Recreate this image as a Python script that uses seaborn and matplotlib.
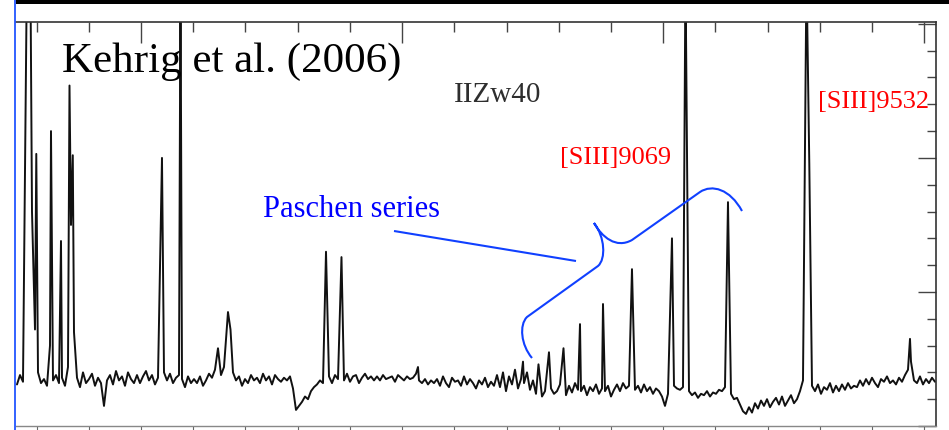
import matplotlib
matplotlib.use("Agg")
import matplotlib.pyplot as plt
from matplotlib.path import Path
from matplotlib.patches import PathPatch, Rectangle
from matplotlib.ticker import MultipleLocator
import numpy as np
import pandas as pd
import seaborn as sns

# spectrum sampled on a regular grid (Angstrom, arbitrary flux units)
SPEC_START = 6525.1
SPEC_STEP = 11.49
SPEC_FLUX = [
    1.55, 1.9, 1.65, 5.0, 16.5, 8.0, 3.6, 2.0, 1.6, 1.75, 1.5, 3.0, 1.7, 1.9, 1.6, 1.8, 1.5, 2.2, 7.5, 3.5,
    1.8, 1.45, 2.0, 1.6, 1.75, 1.95, 1.5, 1.8, 1.6, 0.75, 1.7, 1.9, 1.55, 2.05, 1.7, 1.85, 1.5, 2.0, 1.75, 1.6,
    1.9, 1.6, 1.85, 2.05, 1.7, 1.9, 1.55, 1.8, 1.85, 2.0, 1.7, 1.95, 1.6, 1.8, 1.9, 1.75, 1.45, 1.85, 1.6, 1.75,
    1.6, 1.85, 1.5, 1.7, 1.95, 1.8, 2.1, 2.0, 1.9, 2.2, 2.4, 3.0, 2.0, 1.7, 1.85, 1.5, 1.75, 1.6, 1.9, 1.7,
    1.8, 1.6, 1.95, 1.7, 1.85, 1.55, 1.9, 1.75, 1.65, 1.8, 1.7, 1.85, 1.4, 0.6, 0.75, 0.9, 1.1, 1.0, 1.3, 1.45,
    1.55, 1.7, 1.6, 1.7, 1.85, 1.6, 1.9, 1.75, 1.8, 1.7, 1.95, 1.65, 1.85, 1.9, 1.6, 1.8, 1.95, 1.75, 1.85, 1.7,
    1.85, 1.7, 1.9, 1.75, 1.8, 1.85, 1.65, 1.9, 1.8, 1.7, 1.85, 1.75, 1.8, 1.95, 1.7, 1.6, 1.75, 1.55, 1.7, 1.6,
    1.75, 1.5, 1.85, 1.6, 1.45, 1.8, 1.65, 1.7, 1.5, 1.85, 1.55, 1.75, 1.6, 1.4, 1.7, 1.55, 1.8, 1.45, 1.65, 1.5,
    1.9, 1.45, 2.0, 1.3, 1.85, 1.55, 2.1, 1.4, 1.75, 1.6, 2.0, 1.35, 1.7, 1.2, 1.5, 1.1, 1.3, 1.05, 1.4, 1.2,
    1.3, 1.55, 1.4, 1.15, 1.5, 1.25, 1.6, 1.35, 1.3, 1.5, 1.15, 1.45, 1.3, 1.55, 1.2, 1.4, 1.3, 1.5, 1.1, 1.35,
    1.55, 1.3, 1.6, 1.4, 1.5, 1.6, 1.35, 1.5, 1.25, 1.55, 1.3, 1.45, 1.2, 1.4, 1.3, 1.1, 0.75, 1.2, 1.35, 1.5,
    1.4, 1.35, 1.45, 1.5, 1.3, 1.15, 1.25, 1.05, 1.2, 1.15, 1.3, 1.1, 1.25, 1.2, 1.35, 1.3, 1.45, 1.5, 1.2, 1.0,
    1.05, 0.8, 0.55, 0.45, 0.7, 0.5, 0.85, 0.65, 0.95, 0.75, 1.0, 0.7, 0.9, 1.05, 0.8, 1.1, 0.75, 0.95, 1.15, 0.85,
    1.0, 1.3, 1.7, 1.8, 1.8, 1.5, 1.3, 1.55, 1.2, 1.45, 1.35, 1.6, 1.25, 1.5, 1.3, 1.55, 1.35, 1.6, 1.4, 1.5,
    1.45, 1.7, 1.5, 1.75, 1.55, 1.8, 1.6, 1.45, 1.75, 1.65, 1.85, 1.6, 1.7, 1.55, 1.8, 1.65, 1.9, 2.1, 2.4, 1.7,
    1.6, 1.85, 1.55, 1.75, 1.6, 1.8, 1.65,
]

# unresolved emission-line peaks
LINE_WAVE = [
    6562.6, 6576.8, 6599.0, 6655.3, 6693.6, 6726.2, 6738.8, 7080.4, 7151.3, 7294.9,
    7333.2, 7342.8, 7708.6, 7767.9, 8060.9, 8463.1, 8522.4, 8562.6, 8618.2, 8681.4,
    8769.5, 8880.5, 9033.7, 9085.4, 9248.2, 9548.9, 9559.6, 9945.3,
]
LINE_PEAK = [
    16.5, 16.5, 10.15, 11.0, 6.9, 12.7, 10.1, 10.0, 17.0, 2.9,
    4.25, 3.6, 6.5, 6.3, 2.2, 2.4, 2.3, 2.75, 2.9, 3.8,
    4.55, 5.85, 7.0, 17.0, 8.35, 17.0, 9.8, 3.25,
]

X_RANGE = (6521.3, 10044.9)
Y_RANGE = (0, 15.07)

W, H = 949, 431
SERIF = "Liberation Serif"


def build_spectrum() -> pd.DataFrame:
    wave = SPEC_START + SPEC_STEP * np.arange(len(SPEC_FLUX))
    flux = np.array(SPEC_FLUX)
    lines = np.array(LINE_WAVE)
    keep = np.array([np.min(np.abs(lines - w)) >= 3.8 for w in wave])
    df = pd.concat([
        pd.DataFrame({"wave": wave[keep], "flux": flux[keep]}),
        pd.DataFrame({"wave": LINE_WAVE, "flux": LINE_PEAK}),
    ])
    return df.sort_values("wave").reset_index(drop=True)


sns.set_theme(style="white")
plt.rcParams["font.family"] = [SERIF, "DejaVu Serif"]

fig = plt.figure(figsize=(W / 100, H / 100), dpi=100)
fig.patch.set_facecolor("white")

ax = fig.add_axes([16 / W, 1 - 427 / H, (936 - 16) / W, (427 - 23) / H])
spec = build_spectrum()
sns.lineplot(data=spec, x="wave", y="flux", ax=ax, sort=False, estimator=None,
             color="#111111", linewidth=1.4)
ax.set_xlim(*X_RANGE)
ax.set_ylim(*Y_RANGE)
ax.set_xlabel("")
ax.set_ylabel("")

ax.spines["left"].set_visible(False)
ax.spines["top"].set_color("#333333")
ax.spines["top"].set_linewidth(1.2)
ax.spines["right"].set_color("#333333")
ax.spines["right"].set_linewidth(1.2)
ax.spines["bottom"].set_color("#888888")
ax.spines["bottom"].set_linewidth(1.0)

# bottom ticks point outward, right ticks inward
ax.xaxis.set_major_locator(MultipleLocator(1000))
ax.xaxis.set_minor_locator(MultipleLocator(200))
ax.tick_params(axis="x", which="both", bottom=True, top=False, direction="out",
               length=5, width=0.8, color="#666666", labelbottom=False)
ax.yaxis.tick_right()
ax.yaxis.set_major_locator(MultipleLocator(5))
ax.yaxis.set_minor_locator(MultipleLocator(1))
ax.tick_params(axis="y", which="major", right=True, left=False, direction="in",
               length=13, width=1.0, color="#444444", labelright=False, labelleft=False)
ax.tick_params(axis="y", which="minor", right=True, left=False, direction="in",
               length=6.5, width=1.0, color="#444444")

top = ax.twiny()
top.set_xlim(*X_RANGE)
top.xaxis.set_major_locator(MultipleLocator(1000))
top.xaxis.set_minor_locator(MultipleLocator(200))
top.tick_params(axis="x", which="major", top=True, direction="in", length=15,
                width=1.0, color="#444444", labeltop=False)
top.tick_params(axis="x", which="minor", top=True, direction="in", length=7.5,
                width=1.0, color="#444444")
for s in top.spines.values():
    s.set_visible(False)

# overlay in image pixel coordinates for the page decorations
ov = fig.add_axes([0, 0, 1, 1], zorder=5)
ov.set_xlim(0, W)
ov.set_ylim(H, 0)
ov.axis("off")
ov.patch.set_alpha(0)

ov.add_patch(Rectangle((16, 0), W - 16, 5, color="black", lw=0))
ov.plot([15.5, 15.5], [0, H], color="#2255ff", lw=1.3)

ov.text(62, 72, "Kehrig et al. (2006)", fontsize=31, color="black", family=SERIF)
ov.text(454, 102, "IIZw40", fontsize=21, color="#2e2e2e", family=SERIF)
ov.text(560, 164, "[SIII]9069", fontsize=19, color="red", family=SERIF)
ov.text(818, 108, "[SIII]9532", fontsize=19, color="red", family=SERIF)
ov.text(263, 217, "Paschen series", fontsize=22, color="blue", family=SERIF)

blue = "#1040ff"
ov.plot([394, 576], [232, 262], color=blue, lw=1.5, solid_capstyle="butt")

M, L, C = Path.MOVETO, Path.LINETO, Path.CURVE4
brace_pts = [
    (532, 359), (521, 346), (519, 326), (527, 318),
    (598, 267),
    (606, 260), (605, 238), (594, 224),
    (594, 224), (602, 238), (616, 250), (632, 241),
    (700, 193),
    (712, 185), (730, 190), (742, 212),
]
brace_codes = [M, C, C, C, L, C, C, C, M, C, C, C, L, C, C, C]
ov.add_patch(PathPatch(Path(brace_pts, brace_codes), facecolor="none",
                       edgecolor=blue, lw=1.5))

fig.savefig("out.png", dpi=100)
